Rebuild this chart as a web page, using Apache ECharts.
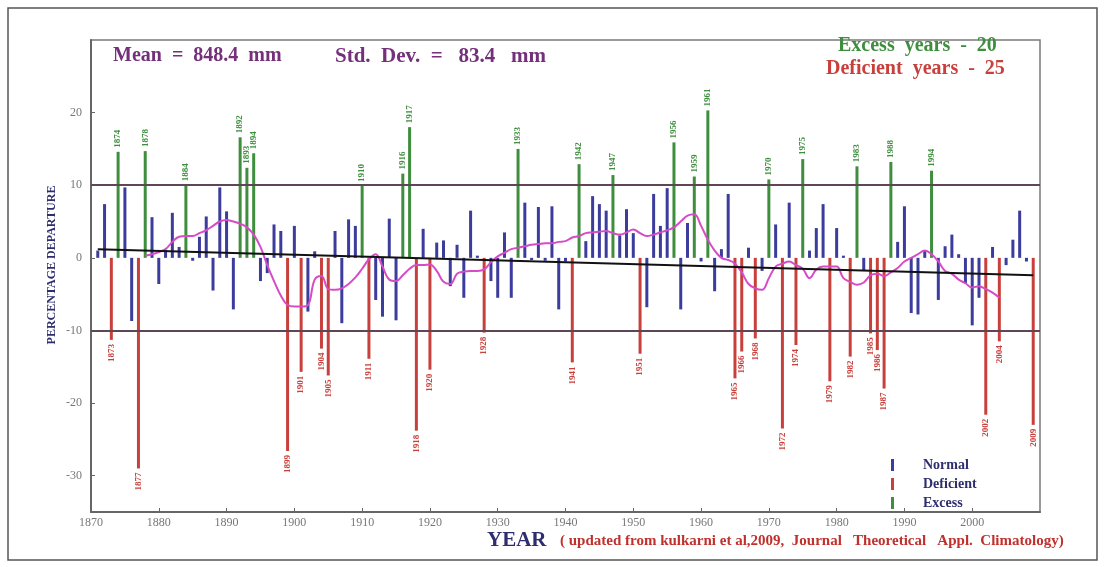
<!DOCTYPE html>
<html>
<head>
<meta charset="utf-8">
<script src="https://cdn.jsdelivr.net/npm/echarts@6/dist/echarts.min.js"></script>
<style>
html,body{margin:0;padding:0;background:#fff;}
#chart{width:1106px;height:567px;}
</style>
</head>
<body>
<div id="chart"></div>
<script>
// ---- data ----
const firstYear = 1871;
const departure = [
  1.0, 7.4, -11.3, 14.6, 9.7, -8.7, -29.0, 14.7, 5.6, -3.6,      // 1871-1880
  1.1, 6.2, 1.5, 10.0, -0.4, 2.9, 5.7, -4.5, 9.7, 6.4,           // 1881-1890
  -7.1, 16.6, 12.4, 14.4, -3.2, -2.1, 4.6, 3.7, -26.6, 4.4,      // 1891-1900
  -15.7, -7.4, 0.9, -12.5, -16.2, 3.7, -9.0, 5.3, 4.4, 9.9,      // 1901-1910
  -13.9, -5.8, -8.1, 5.4, -8.6, 11.6, 18.0, -23.8, 4.0, -15.4,   // 1911-1920
  2.1, 2.4, -3.9, 1.8, -5.5, 6.5, 0.3, -10.3, -3.2, -5.5,        // 1921-1930
  3.5, -5.5, 15.0, 7.6, -0.3, 7.0, -0.4, 7.1, -7.1, -0.5,        // 1931-1940
  -14.4, 12.9, 2.3, 8.5, 7.4, 6.5, 11.4, 3.1, 6.7, 3.4,          // 1941-1950
  -13.2, -6.8, 8.8, 4.4, 9.6, 15.9, -7.1, 4.8, 11.2, -0.5,       // 1951-1960
  20.3, -4.6, 1.2, 8.8, -16.6, -12.9, 1.4, -11.1, -1.8, 10.8,    // 1961-1970
  4.6, -23.5, 7.6, -12.0, 13.6, 1.0, 4.1, 7.4, -17.0, 4.1,       // 1971-1980
  0.3, -13.6, 12.6, -1.8, -10.4, -12.7, -18.0, 13.2, 2.2, 7.1,   // 1981-1990
  -7.6, -7.8, 1.0, 12.0, -5.8, 1.6, 3.2, 0.5, -3.5, -9.3,        // 1991-2000
  -5.5, -21.6, 1.5, -11.5, -1.0, 2.5, 6.5, -0.5, -23.0           // 2001-2009
];
const excessYears = [1874, 1878, 1884, 1892, 1893, 1894, 1910, 1916, 1917, 1933,
  1942, 1947, 1956, 1959, 1961, 1970, 1975, 1983, 1988, 1994];
const deficientYears = [1873, 1877, 1899, 1901, 1904, 1905, 1911, 1918, 1920, 1928,
  1941, 1951, 1965, 1966, 1968, 1972, 1974, 1979, 1982, 1985, 1986, 1987, 2002, 2004, 2009];
const trendYears = [1871, 2009];
const trendValues = [1.2, -2.4];
const smoothStart = 1878;
const smoothValues = [
  0.3, 0.5, 0.8, 1.2, 2.2, 2.9, 3.0, 3.0, 3.4, 3.8,
  4.4, 5.0, 5.2, 5.0, 4.7, 4.2, 3.2, 1.5, -1.0, -3.2,
  -5.2, -6.5, -6.7, -6.7, -6.5, -3.0, -2.5, -4.3, -4.4, -4.2,
  -3.6, -2.7, -1.5, -0.2, 0.5, -1.2, -3.0, -3.2, -2.4, -1.5,
  -1.0, -1.0, -0.9, -1.8, -3.3, -3.6, -2.2, -1.9, -1.8, -1.8,
  -1.6, -0.6, 0.2, 0.7, 1.2, 1.4, 1.6, 1.8, 1.9, 2.0,
  2.0, 2.2, 2.3, 2.8, 3.0, 3.4, 3.5, 3.6, 3.7, 3.4,
  3.2, 3.5, 3.9, 3.4, 3.0, 3.2, 3.5, 3.8, 4.2, 5.0,
  5.8, 6.0, 4.4, 2.5, 1.0, 0.0, -0.3, -0.8, -2.0, -3.6,
  -4.2, -4.4, -2.8, -1.2, -0.8, -0.5, -1.0, -1.5, -2.8, -1.6,
  -1.2, -1.2, -1.2, -2.8, -3.3, -3.7, -3.4, -2.4, -2.2, -2.5,
  -2.0, -1.4, -0.5, 0.0, 0.5, 1.0, 0.5, -0.5, -1.8, -2.2,
  -3.0, -3.5, -4.1, -3.9, -4.3, -4.8, -5.5
];
const thresholds = [10, -10];
const xMin = 1870, xMax = 2010, xStep = 10;
const yMin = -35, yMax = 30;

// ---- build series data ----
const normalData = [], deficientData = [], excessData = [];
departure.forEach((v, i) => {
  const yr = firstYear + i;
  if (excessYears.includes(yr)) excessData.push([yr, v]);
  else if (deficientYears.includes(yr)) deficientData.push([yr, v]);
  else normalData.push([yr, v]);
});
const smoothData = smoothValues.map((v, i) => [smoothStart + i, v]);
const trendData = trendYears.map((y, i) => [y, trendValues[i]]);

const SERIF = '"Liberation Serif", "DejaVu Serif", serif';
const BLUE = '#3c3c9c', RED = '#c8403c', GREEN = '#3e8e3e';

const chart = echarts.init(document.getElementById('chart'));
chart.setOption({
  backgroundColor: '#fff',
  animation: false,
  grid: { left: 91, right: 66, top: 40, bottom: 55, show: true,
          borderColor: '#7a7a7a', borderWidth: 1.5, backgroundColor: 'transparent' },
  xAxis: {
    type: 'value', min: xMin, max: xMax, interval: xStep,
    axisLine: { show: true, onZero: false, lineStyle: { color: '#666', width: 2 } },
    axisTick: { show: true, inside: true, length: 4, lineStyle: { color: '#666' } },
    splitLine: { show: false },
    axisLabel: { color: '#777', fontFamily: SERIF, fontSize: 12, margin: 5,
                 showMaxLabel: false, formatter: v => String(v) }
  },
  yAxis: {
    type: 'value', min: yMin, max: yMax, minInterval: 10, maxInterval: 10,
    axisLine: { show: true, lineStyle: { color: '#666', width: 2 } },
    axisTick: { show: true, inside: true, length: 4, lineStyle: { color: '#666' } },
    splitLine: { show: false },
    axisLabel: { color: '#777', fontFamily: SERIF, fontSize: 12, margin: 9,
                 showMinLabel: false, showMaxLabel: false }
  },
  legend: {
    left: 886, top: 453, orient: 'vertical', icon: 'rect',
    itemWidth: 3, itemHeight: 12, itemGap: 5,
    data: ['Normal', 'Deficient', 'Excess'],
    textStyle: { fontFamily: SERIF, fontWeight: 'bold', fontSize: 14, color: '#2e2e6e',
                 padding: [0, 0, 0, 24] }
  },
  series: [
    {
      name: 'Normal', type: 'bar', data: normalData, barWidth: 3, barGap: '-100%',
      itemStyle: { color: BLUE },
      markLine: {
        silent: true, symbol: 'none', label: { show: false },
        lineStyle: { color: '#5e4656', width: 2, type: 'solid' },
        data: thresholds.map(t => ({ yAxis: t }))
      }
    },
    {
      name: 'Deficient', type: 'bar', data: deficientData, barWidth: 3, barGap: '-100%',
      itemStyle: { color: RED },
      label: { show: true, position: 'bottom', rotate: 90, align: 'right', verticalAlign: 'middle',
               distance: 4, fontFamily: SERIF, fontWeight: 'bold', fontSize: 9, color: RED,
               formatter: p => String(p.value[0]) }
    },
    {
      name: 'Excess', type: 'bar', data: excessData, barWidth: 3, barGap: '-100%',
      itemStyle: { color: GREEN },
      label: { show: true, position: 'top', rotate: 90, align: 'left', verticalAlign: 'middle',
               distance: 4, fontFamily: SERIF, fontWeight: 'bold', fontSize: 9, color: GREEN,
               formatter: p => String(p.value[0]) }
    },
    {
      name: 'running', type: 'line', data: smoothData, smooth: 0.4, showSymbol: false,
      lineStyle: { color: '#d64bc6', width: 2 }, z: 4
    },
    {
      name: 'trend', type: 'line', data: trendData, showSymbol: false,
      lineStyle: { color: '#111', width: 2 }, z: 5
    }
  ],
  graphic: [
    { type: 'rect', shape: { x: 8, y: 8, width: 1089, height: 552 },
      style: { fill: 'none', stroke: '#555', lineWidth: 1.5 }, silent: true },
    { type: 'text', left: 113, top: 46,
      style: { text: 'Mean  =  848.4  mm', font: 'bold 20px ' + SERIF, fill: '#74307a' } },
    { type: 'text', left: 335, top: 46,
      style: { text: 'Std.  Dev.  =   83.4   mm', font: 'bold 21px ' + SERIF, fill: '#74307a' } },
    { type: 'text', left: 838, top: 36,
      style: { text: 'Excess  years  -  20', font: 'bold 20px ' + SERIF, fill: GREEN } },
    { type: 'text', left: 826, top: 59,
      style: { text: 'Deficient  years  -  25', font: 'bold 20px ' + SERIF, fill: RED } },
    { type: 'text', x: 52, y: 265, rotation: Math.PI / 2,
      style: { text: 'PERCENTAGE DEPARTURE', font: 'bold 12px ' + SERIF, fill: '#2e2e6e',
               align: 'center', verticalAlign: 'middle' } },
    { type: 'text', left: 487, top: 530,
      style: { text: 'YEAR', font: 'bold 21px ' + SERIF, fill: '#2e2e6e' } },
    { type: 'text', left: 560, top: 534,
      style: { text: '( updated from kulkarni et al,2009,  Journal   Theoretical   Appl.  Climatology)',
               font: 'bold 15px ' + SERIF, fill: '#c0302c' } }
  ]
});
</script>
</body>
</html>
